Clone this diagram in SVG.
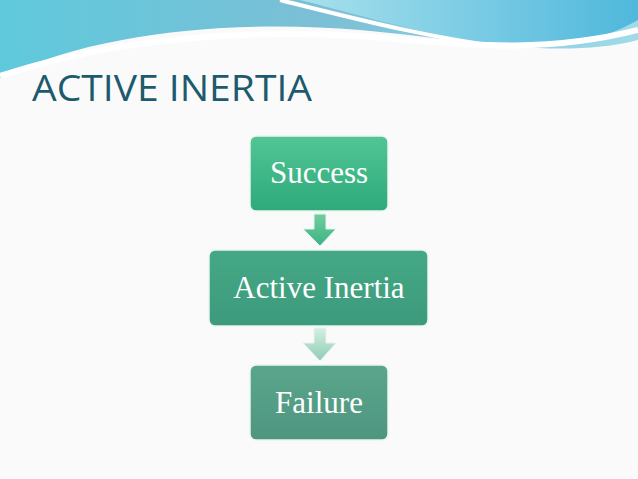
<svg xmlns="http://www.w3.org/2000/svg" width="638" height="479" viewBox="0 0 638 479">
<defs>
<linearGradient id="hdr" x1="0" y1="0" x2="1" y2="0"><stop offset="0" stop-color="#5fc9dc"/><stop offset="0.5" stop-color="#7bbfd6"/><stop offset="1" stop-color="#9fdbe8"/></linearGradient>
<linearGradient id="hdr2" x1="0" y1="0" x2="1" y2="0"><stop offset="0" stop-color="#a8e0ec"/><stop offset="1" stop-color="#4fb8dc"/></linearGradient>
<linearGradient id="g1" x1="0" y1="0" x2="0" y2="1"><stop offset="0" stop-color="#52c596"/><stop offset="1" stop-color="#2eaa7a"/></linearGradient>
<linearGradient id="g2" x1="0" y1="0" x2="0" y2="1"><stop offset="0" stop-color="#44a886"/><stop offset="1" stop-color="#3d9a7c"/></linearGradient>
<linearGradient id="g3" x1="0" y1="0" x2="0" y2="1"><stop offset="0" stop-color="#5aa68c"/><stop offset="1" stop-color="#4f9580"/></linearGradient>
<linearGradient id="a1" x1="0" y1="0" x2="0" y2="1"><stop offset="0" stop-color="#6fcfa0"/><stop offset="1" stop-color="#3bb383"/></linearGradient>
<linearGradient id="a2" x1="0" y1="0" x2="0" y2="1"><stop offset="0" stop-color="#d4efe2"/><stop offset="1" stop-color="#8fcdb2"/></linearGradient>
<style>.box{stroke:#eaf5f0;stroke-width:1.5}.t{font-family:"Liberation Serif",serif;font-size:31px;fill:#ffffff;text-anchor:middle}</style>
</defs>
<rect width="638" height="479" fill="#fafafa"/>
<path d="M0,0 H638 V40 C560,60 470,40 360,30 C240,20 100,30 0,78 Z" fill="url(#hdr)"/>
<path d="M300,0 C380,20 440,40 520,46 C580,50 620,30 638,20 V0 Z" fill="url(#hdr2)"/>
<path d="M280,0 C360,20 430,38 510,48" stroke="#ffffff" stroke-width="4" fill="none"/>
<path d="M0,76 C120,36 250,30 360,36 C460,44 540,55 638,30" stroke="#ffffff" stroke-width="6" fill="none"/>
<text x="32" y="101" font-family="Open Sans,Liberation Sans,sans-serif" font-size="37" fill="#1d5a6e" textLength="280" lengthAdjust="spacingAndGlyphs">ACTIVE INERTIA</text>
<g id="connectors">
<path d="M314,214 H326 V229 H336 L320,246 L303,229 H314 Z" fill="url(#a1)" stroke="#e6f3ee"/>
<path d="M314,328 H326 V343 H336 L320,361 L303,343 H314 Z" fill="url(#a2)" stroke="#e6f3ee"/>
</g>
<g id="n1"><rect class="box" x="250" y="136" width="138" height="75" rx="6" fill="url(#g1)"/><text class="t" x="319" y="183">Success</text></g>
<g id="n2"><rect class="box" x="209" y="250" width="219" height="76" rx="6" fill="url(#g2)"/><text class="t" x="319" y="298">Active Inertia</text></g>
<g id="n3"><rect class="box" x="250" y="365" width="138" height="75" rx="6" fill="url(#g3)"/><text class="t" x="319" y="413">Failure</text></g>
</svg>
